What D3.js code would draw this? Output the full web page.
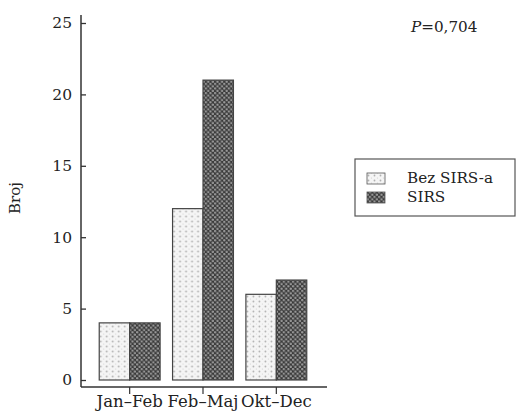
<!DOCTYPE html>
<html>
<head>
<meta charset="utf-8">
<script src="https://cdn.jsdelivr.net/npm/d3@7"></script>
<style>
  body { margin: 0; background: #fff; }
</style>
</head>
<body>
<svg id="chart" width="516" height="412" font-family="'DejaVu Serif', serif"></svg>
<script>
// data
const periods = ["Jan–Feb", "Feb–Maj", "Okt–Dec"];
const groups = ["Bez SIRS-a", "SIRS"];
const bezSirs = [4, 12, 6];
const sirs = [4, 21, 7];
const yTicks = [0, 5, 10, 15, 20, 25];
const pText = "=0,704";

const FONT = "'DejaVu Serif', serif";
const svg = d3.select("#chart");
const defs = svg.append("defs");

// light dotted pattern
const pl = defs.append("pattern").attr("id", "pLight")
    .attr("patternUnits", "userSpaceOnUse").attr("width", 6).attr("height", 5);
pl.append("rect").attr("width", 6).attr("height", 5).attr("fill", "#f5f5f5");
pl.append("circle").attr("cx", 1.5).attr("cy", 1.5).attr("r", 0.9).attr("fill", "#b0b0b0");
pl.append("circle").attr("cx", 4.5).attr("cy", 4).attr("r", 0.6).attr("fill", "#cfcfcf");

// dark checker pattern
const pd = defs.append("pattern").attr("id", "pDark")
    .attr("patternUnits", "userSpaceOnUse").attr("width", 4.6).attr("height", 4.6);
pd.append("rect").attr("width", 4.6).attr("height", 4.6).attr("fill", "#3a3a3a");
pd.append("circle").attr("cx", 1.15).attr("cy", 1.15).attr("r", 1.2).attr("fill", "#9a9a9a");
pd.append("circle").attr("cx", 3.45).attr("cy", 3.45).attr("r", 1.2).attr("fill", "#9a9a9a");

const fills = ["url(#pLight)", "url(#pDark)"];

const y = d3.scaleLinear().domain([0, 25]).range([380, 23]);
const x0 = d3.scaleBand().domain(periods).range([93, 313]).paddingInner(0.17).paddingOuter(0.085);
const x1 = d3.scaleBand().domain(groups).range([0, x0.bandwidth()]);

const rows = periods.map((p, i) => ({ period: p, vals: [bezSirs[i], sirs[i]] }));

// bars
svg.append("g").selectAll("g")
  .data(rows)
  .join("g")
    .attr("transform", d => `translate(${x0(d.period)},0)`)
  .selectAll("rect")
  .data(d => d.vals.map((v, j) => ({ key: groups[j], v, j })))
  .join("rect")
    .attr("x", d => x1(d.key))
    .attr("y", d => y(d.v))
    .attr("width", x1.bandwidth())
    .attr("height", d => y(0) - y(d.v))
    .attr("fill", d => fills[d.j])
    .attr("stroke", "#444")
    .attr("stroke-width", 1.2);

// y axis
const yAxis = svg.append("g").attr("transform", "translate(81,0)")
  .call(d3.axisRight(y).tickValues(yTicks).tickSize(5).tickFormat(d3.format("d")))
  .attr("font-family", FONT);
yAxis.select(".domain").remove();
yAxis.selectAll(".tick line").attr("stroke", "#333").attr("stroke-width", 1.3);
yAxis.selectAll(".tick text").attr("x", -9).attr("text-anchor", "end")
  .attr("font-size", 15.5).attr("fill", "#222");
svg.append("line").attr("x1", 81).attr("x2", 81).attr("y1", 15).attr("y2", 387)
  .attr("stroke", "#333").attr("stroke-width", 1.5);

// x axis
const xAxis = svg.append("g").attr("transform", "translate(0,387)")
  .call(d3.axisBottom(x0).tickSize(7).tickSizeOuter(0))
  .attr("font-family", FONT);
xAxis.select(".domain").remove();
xAxis.selectAll(".tick line").attr("stroke", "#333").attr("stroke-width", 1.2);
xAxis.selectAll(".tick text").attr("y", 8).attr("font-size", 16.5).attr("fill", "#222");
svg.append("line").attr("x1", 81).attr("x2", 327).attr("y1", 387).attr("y2", 387)
  .attr("stroke", "#333").attr("stroke-width", 1.5);

// y title
svg.append("text").attr("transform", "translate(20,198) rotate(-90)")
  .attr("text-anchor", "middle").attr("font-size", 15).attr("fill", "#222").text("Broj");

// P value
const pt = svg.append("text").attr("x", 411).attr("y", 32).attr("font-size", 15.2).attr("fill", "#222");
pt.append("tspan").attr("font-style", "italic").text("P");
pt.append("tspan").text(pText);

// legend
const lg = svg.append("g").attr("transform", "translate(355,159)");
lg.append("rect").attr("width", 160).attr("height", 57)
  .attr("fill", "#fff").attr("stroke", "#555").attr("stroke-width", 1.2);
groups.forEach((g, i) => {
  lg.append("rect").attr("x", 12).attr("y", 14 + i * 19).attr("width", 18).attr("height", 11)
    .attr("fill", fills[i]).attr("stroke", "#555").attr("stroke-width", 0.8);
  lg.append("text").attr("x", 52).attr("y", 24 + i * 19).attr("font-size", 15.2)
    .attr("fill", "#222").text(g);
});
</script>
</body>
</html>
